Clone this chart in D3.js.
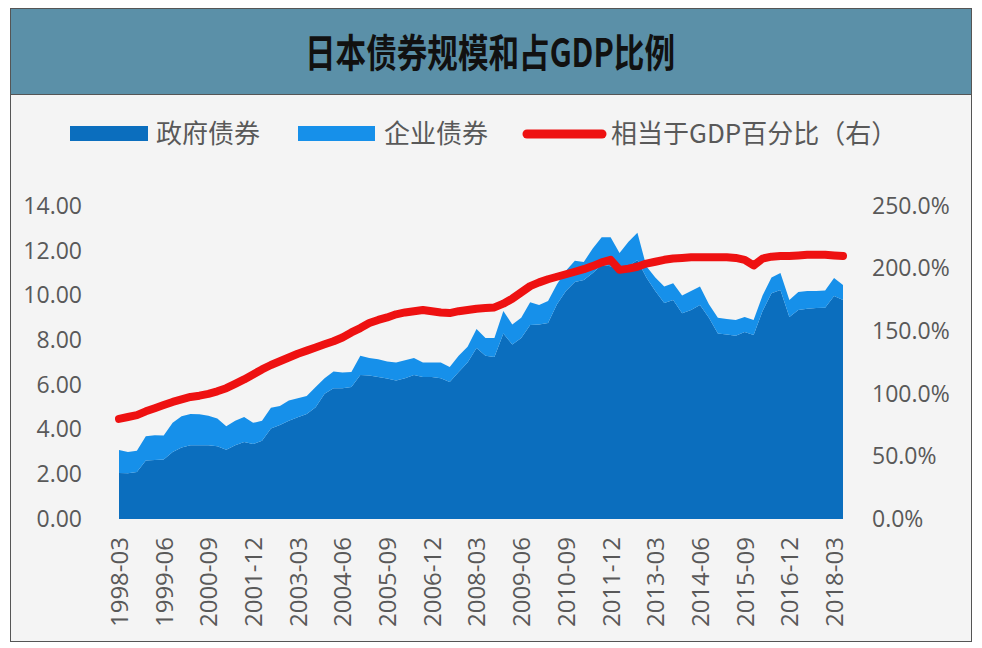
<!DOCTYPE html>
<html><head><meta charset="utf-8">
<script src="https://cdn.jsdelivr.net/npm/d3@7"></script>
<style>
html,body{margin:0;padding:0;background:#fff;}
svg{display:block;}
</style></head>
<body>
<svg id="chart" width="982" height="648"></svg>
<script>
const title = "日本债券规模和占GDP比例";
const seriesNames = ["政府债券", "企业债券", "相当于GDP百分比（右）"];
const quarters = [
"1998-03","1998-06","1998-09","1998-12","1999-03","1999-06","1999-09","1999-12",
"2000-03","2000-06","2000-09","2000-12","2001-03","2001-06","2001-09","2001-12",
"2002-03","2002-06","2002-09","2002-12","2003-03","2003-06","2003-09","2003-12",
"2004-03","2004-06","2004-09","2004-12","2005-03","2005-06","2005-09","2005-12",
"2006-03","2006-06","2006-09","2006-12","2007-03","2007-06","2007-09","2007-12",
"2008-03","2008-06","2008-09","2008-12","2009-03","2009-06","2009-09","2009-12",
"2010-03","2010-06","2010-09","2010-12","2011-03","2011-06","2011-09","2011-12",
"2012-03","2012-06","2012-09","2012-12","2013-03","2013-06","2013-09","2013-12",
"2014-03","2014-06","2014-09","2014-12","2015-03","2015-06","2015-09","2015-12",
"2016-03","2016-06","2016-09","2016-12","2017-03","2017-06","2017-09","2017-12",
"2018-03","2018-06"];
const govBonds = [
2.06,2.05,2.10,2.62,2.64,2.66,3.00,3.20,3.30,3.30,3.30,3.25,3.10,3.30,3.44,3.35,
3.50,4.05,4.20,4.40,4.55,4.70,5.00,5.60,5.85,5.85,5.90,6.44,6.42,6.35,6.28,6.20,
6.30,6.44,6.35,6.35,6.30,6.13,6.57,7.00,7.65,7.30,7.25,8.30,7.80,8.10,8.68,8.70,
8.77,9.60,10.20,10.60,10.69,11.00,11.36,11.30,11.10,11.30,11.58,10.80,10.20,9.66,
9.80,9.20,9.35,9.57,9.00,8.30,8.25,8.20,8.36,8.23,9.30,10.10,10.24,9.03,9.35,9.40,
9.44,9.45,9.97,9.80];
const corpBonds = [
1.03,0.95,0.95,1.08,1.11,1.07,1.30,1.40,1.40,1.38,1.32,1.25,1.05,1.10,1.12,0.95,
0.90,0.93,0.85,0.90,0.85,0.80,0.90,0.70,0.75,0.70,0.68,0.86,0.78,0.80,0.77,0.80,
0.80,0.76,0.65,0.65,0.70,0.67,0.73,0.70,0.85,0.80,0.85,1.00,0.90,0.90,1.02,0.87,
0.98,0.90,0.90,0.95,0.81,1.10,1.24,1.30,0.80,1.10,1.22,0.50,0.60,0.74,0.75,0.80,
0.85,0.83,0.60,0.70,0.70,0.70,0.67,0.67,0.70,0.70,0.76,0.77,0.80,0.80,0.76,0.77,
0.81,0.67];
const gdpPct = [
80,81.5,83,86,88.5,91,93.5,95.5,97.5,98.5,100,102,104.5,108,111.5,115.5,
119.5,123,126,129,132,134.5,137,139.5,142,145,149,152.5,156.5,159,161,163.5,
165,166,167,166,165,164.5,166,167,168,168.5,169,172,176,181,186,189,
191.5,193.5,195.5,197.5,199.5,202,205,207,199,200,201.5,204,205.5,207,
208,208.5,209,209,209,209,209,208.5,207,202.5,208,209.5,210,210,210.5,211,
211,211,210.5,210];
const leftTicks = [0,2,4,6,8,10,12,14];
const rightTicks = [0,0.5,1,1.5,2,2.5];
const xTickLabels = ["1998-03","1999-06","2000-09","2001-12","2003-03","2004-06","2005-09","2006-12",
"2008-03","2009-06","2010-09","2011-12","2013-03","2014-06","2015-09","2016-12","2018-03"];

const colors = {gov:"#0b6ebe", corp:"#1690ea", gdp:"#ee1111"};
const svg = d3.select("#chart");
const tickFont = "'Open Sans', 'Noto Sans', sans-serif";
const cjkFont = "'Noto Sans CJK SC', 'Noto Sans', sans-serif";

// frame
svg.append("rect").attr("x",10.5).attr("y",8.5).attr("width",961).attr("height",633)
  .attr("fill","#f4f4f4").attr("stroke","#555").attr("stroke-width",1);
svg.append("rect").attr("x",10.5).attr("y",8.5).attr("width",961).attr("height",86)
  .attr("fill","#5b90a8").attr("stroke","#555").attr("stroke-width",1);

svg.append("text").attr("x",490).attr("y",67).attr("text-anchor","middle")
  .attr("font-family",cjkFont).attr("font-weight",700).attr("font-size",39)
  .attr("textLength",370).attr("lengthAdjust","spacingAndGlyphs")
  .attr("fill","#111").text(title);

// legend
const lg = svg.append("g").attr("font-family",cjkFont).attr("font-size",26).attr("fill","#595959");
lg.append("rect").attr("x",70).attr("y",126).attr("width",78).attr("height",15).attr("fill",colors.gov);
lg.append("text").attr("x",156).attr("y",143).text(seriesNames[0]);
lg.append("rect").attr("x",298).attr("y",126).attr("width",77).attr("height",15).attr("fill",colors.corp);
lg.append("text").attr("x",384).attr("y",143).text(seriesNames[1]);
lg.append("line").attr("x1",527).attr("x2",602).attr("y1",134).attr("y2",134)
  .attr("stroke",colors.gdp).attr("stroke-width",9).attr("stroke-linecap","round");
lg.append("text").attr("x",611).attr("y",143).text(seriesNames[2]);

// scales
const x = d3.scalePoint().domain(quarters).range([119,843]);
const yL = d3.scaleLinear().domain([0,14]).range([519,206]);
const yR = d3.scaleLinear().domain([0,2.5]).range([519,206]);

const rows = quarters.map((q,i)=>({q, gov:govBonds[i], corp:corpBonds[i], pct:gdpPct[i]/100}));
const stack = d3.stack().keys(["gov","corp"])(rows);
const area = d3.area().x(d=>x(d.data.q)).y0(d=>yL(d[0])).y1(d=>yL(d[1]));
svg.append("g").selectAll("path").data(stack).join("path")
  .attr("d",area).attr("fill",(d,i)=>i===0?colors.gov:colors.corp);

const line = d3.line().x(d=>x(d.q)).y(d=>yR(d.pct));
svg.append("path").datum(rows).attr("d",line).attr("fill","none")
  .attr("stroke",colors.gdp).attr("stroke-width",8).attr("stroke-linejoin","round").attr("stroke-linecap","round");

// axes
const ax1 = svg.append("g").attr("transform","translate(82,0)")
  .call(d3.axisLeft(yL).tickValues(leftTicks).tickFormat(d3.format(".2f")).tickSize(0).tickPadding(0));
const ax2 = svg.append("g").attr("transform","translate(872,0)")
  .call(d3.axisRight(yR).tickValues(rightTicks).tickFormat(d3.format(".1%")).tickSize(0).tickPadding(0));
const ax3 = svg.append("g").attr("transform","translate(0,519)")
  .call(d3.axisBottom(x).tickValues(xTickLabels).tickSize(0).tickPadding(0));
[ax1,ax2,ax3].forEach(a=>{
  a.select(".domain").remove();
  a.selectAll("text").attr("font-family",tickFont).attr("font-size",23).attr("fill","#595959");
});
ax3.selectAll("text").attr("font-size",24).attr("transform","rotate(-90)").attr("text-anchor","end")
  .attr("x",-18).attr("y",0).attr("dy","0.35em");
</script>
</body></html>
